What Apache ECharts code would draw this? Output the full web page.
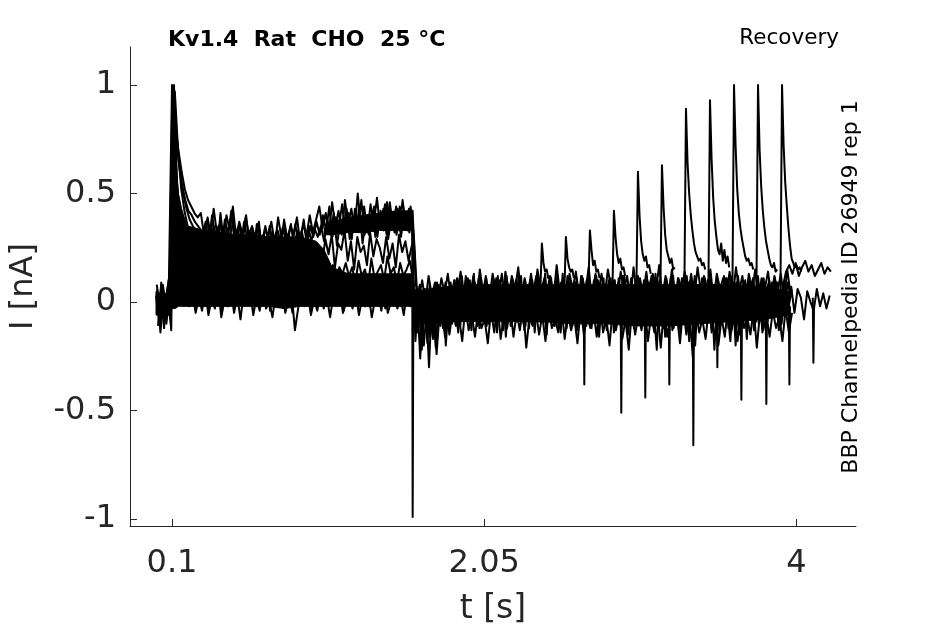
<!DOCTYPE html>
<html><head><meta charset="utf-8">
<script src="https://cdn.jsdelivr.net/npm/echarts@6/dist/echarts.min.js"></script>
<style>html,body{margin:0;padding:0;background:#fff}#c{width:945px;height:624px}</style>
</head><body><div id="c"></div>
<script>
// Sampling of the sweeps: one sample every 0.02 s starting at t = 0 s (+ a small per-sweep offset). Values in 0.01 nA.
const sampleStep = 0.02;
const recoveryStartIndex = 81; // t = 1.62 s, right after the 1.6 s prepulse end
const sweepOffsets = [0, 0.01, 0.005, 0.015, 0.0075, 0.0125, 0.0025, 0.0175];

// Prepulse part of each sweep (t = 0 .. 1.6 s)
const pre1 = [3,-9,6,-4,8,100,82,70,60,52,47,44,41,39,
 41,31,38,29,43,32,36,28,40,33,44,30,37,27,39,31,35,29,36,26,34,30,37,28,33,27,38,29,35,31,39,28,36,30,40,32,38,
 44,34,41,32,46,35,42,31,47,36,43,33,50,35,44,32,45,36,48,34,43,31,46,35,44,33,47,36,43,34];
const pre2 = [-6,5,-12,2,-3,98,75,60,50,43,38,35,33,31,
 29,37,27,40,30,35,26,38,31,42,28,34,25,37,29,33,24,36,28,31,25,35,27,32,24,34,29,31,26,36,27,33,25,35,28,34,30,
 35,28,38,31,41,26,37,32,43,29,39,33,44,27,38,31,42,30,40,34,45,29,39,32,43,30,41,33,44,31];
const pre3 = [8,-4,1,-10,5,96,62,42,32,26,22,20,21,18,
 22,15,20,13,19,24,14,18,12,21,16,19,11,20,15,18,13,
 17,12,19,14,10,18,13,16,9,17,14,11,18,12,15,
 13,18,10,16,12,19,9,15,11,17,10,16,13,18,12,
 16,9,19,12,15,8,20,11,14,17,10,21,13,16,9,18,12,15,19,11];
const pre4 = [-2,7,-8,4,-13,94,45,26,16,12,9,13,7,11,
 4,12,6,14,3,10,8,15,2,11,5,13,7,1,12,6,10,
 3,11,5,9,-1,8,12,4,10,2,13,6,9,3,11,
 5,10,2,12,7,0,9,4,11,6,1,10,8,3,12,
 4,9,1,11,6,2,10,5,8,0,12,3,7,9,2,11,5,8,1,6];
const pre5 = [6,-14,4,-7,2,92,30,10,3,6,-2,4,-5,2,
 -4,5,-6,2,-3,7,-7,1,-2,6,-5,3,-8,4,-1,5,-6,
 2,-4,6,-3,0,-7,4,-2,5,-5,1,4,-13,-3,6,
 -2,4,-6,1,-4,5,-3,2,-7,3,-1,6,-5,0,4,
 -3,5,-6,2,-2,4,-7,1,3,-4,6,-5,0,4,-3,2,-6,5,-1,3];
const pre6 = [-11,9,-5,7,-9,100,40,16,8,12,3,10,0,9,
 1,8,-3,10,2,6,-4,9,3,11,-2,7,0,12,-1,5,9,
 -2,7,1,10,-4,6,2,11,-1,8,3,-5,9,0,6,
 2,10,-3,7,1,9,-2,12,0,6,3,11,-4,8,2,
 9,-1,7,3,11,-2,6,0,10,4,-3,8,1,12,-1,7,2,9,-2,5];
const pre7 = [5,-10,8,-2,-6,99,78,64,54,47,42,40,37,35,
 33,26,39,30,35,24,41,28,34,30,38,25,36,31,40,27,33,29,37,23,35,28,32,26,39,30,34,27,36,25,33,29,38,26,35,30,37,
 31,40,33,44,30,39,35,45,32,41,29,43,34,47,31,40,36,44,30,42,33,46,35,41,31,44,34,39,32,42];
const pre8 = [-9,3,-4,10,-1,97,70,52,42,35,31,29,27,26,
 24,19,27,21,25,17,28,22,26,18,24,20,29,23,25,16,27,21,24,19,26,22,28,18,25,20,23,17,27,21,24,19,26,22,25,18,23,
 18,29,22,31,16,27,24,33,19,28,15,30,23,26,17,32,21,29,25,18,30,20,27,16,31,23,28,19,26,22];

// Recovery part of sweeps (t = 1.62 s onward), 0.01 nA
const rec1 = [-18,4,-22,6,-9,2,-14,7,-6,3,
 -8,9,-4,11,-11,5,-2,10,-7,8,-12,3,12,-5,7,-9,4,13,-3,6,
 -10,8,-1,12,-13,5,9,-6,11,-4,2,-15,10,-2,7,-8,13,-5,4,-11,
 9,-3,12,-7,6,-12,3,10,-9,8,-1,11,-14,5,-4,12,-8,7,-2,10,
 -6,4,-11,9,-3,13,-9,6,-16,8,1,-7,11,-5,3,-12,10,-2,7,-10,
 5,-4,12,-9,8,-13,3,11,-6,9,-20,4,-3,10,-8,6,-11,12,-5,7,
 -9,5,-2,9,-12,6,-4,3];
const rec2 = [5,-26,2,-12,8,-17,1,-8,6,-20,
 3,-10,8,-6,12,-3,6,-13,9,-1,11,-8,4,-5,10,-14,7,-2,12,-6,
 4,-9,11,-3,7,-12,10,-1,5,-8,13,-4,8,-11,2,9,-7,12,-3,6,
 -13,7,-2,10,-8,4,12,-5,9,-10,3,8,-6,11,-2,6,-15,9,-4,12,
 -1,8,-9,5,11,-7,3,-12,9,-3,12,-8,6,-1,10,-18,5,8,-6,11,
 -2,9,-14,4,10,-7,7,-3,12,-10,5,-1,9,-17,6,11,-4,8,-9,3,
 10,-6,7,-13,4,9,-3,6];
const rec3 = [-8,7,-15,3,-30,5,-10,8,-4,-16,
 6,-2,10,-12,4,-7,9,-4,13,-9,2,7,-11,5,-3,11,-6,8,-16,4,
 9,-5,12,-8,3,-2,10,-14,6,-6,11,-1,8,-9,12,-4,5,-12,9,-2,
 7,-10,11,-3,5,-7,13,-1,8,-11,6,-4,10,-8,3,12,-6,7,-12,9,
 4,-8,12,-2,7,-10,10,-5,2,8,-13,6,-3,11,-7,9,-1,12,-9,5,
 -6,10,-3,8,-12,6,-1,11,-8,4,9,-15,7,-5,12,-2,5,-10,10,-6,
 8,-1,11,-8,5,-3,9,2];
const rec4 = [2,-12,6,-19,4,-7,9,-11,1,-5,
 -12,7,-5,10,-2,12,-9,4,-6,11,-3,8,-10,6,-1,12,-7,3,9,-11,
 6,-3,11,-10,8,-6,4,12,-9,7,-2,10,-7,3,-12,9,-1,11,-6,8,
 -4,12,-9,6,-1,10,-7,3,11,-13,8,-2,6,-9,12,-5,4,-3,10,-8,
 7,-11,4,12,-6,9,-2,6,-9,11,-4,8,-14,5,12,-3,7,-10,3,9,
 -7,11,-2,6,-9,4,10,-12,7,-4,12,-1,8,-8,5,-13,9,-3,11,-6,
 6,-4,9,-2,7,14,17,13,18,12,16,19,14,17,12,15,18,13,16,14];
const rec5 = [-4,8,-9,2,-13,6,-21,4,-7,9,
 1,-9,5,-14,8,-4,11,-6,2,-11,9,-2,6,-8,10,-5,3,-13,7,-1,
 -7,10,-4,6,-11,8,1,-9,12,-5,4,-8,11,-3,7,-14,9,-2,5,-9,
 11,-2,4,-11,9,-6,8,-16,5,-3,10,-7,2,9,-12,7,-1,11,-10,4,
 -3,10,-7,6,-1,-22,8,-4,11,-6,5,-9,9,-2,6,-11,3,-20,8,-5,
 11,-4,7,-22,5,-8,12,-3,-18,9,-6,4,-11,8,-2,10,-9,5,-14,7,
 -3,9,-6,5,-10,4,-2,7,-5,6,2,-8,5,0,-4,6,-2,4,-3,3];
const rec6 = [-14,-4,-20,-2,-16,-6,-24,-3,-12,-5,
 -15,-4,-11,-7,-18,-2,-13,-6,-16,-3,-12,-8,-19,-4,-14,-1,-17,-6,-12,-3,
 -16,-5,-13,-2,-21,-7,-11,-4,-15,-6,-18,-3,-12,-8,-14,-2,-17,-5,-13,-7,
 -19,-3,-15,-6,-12,-4,-16,-1,-14,-7,-20,-3,-13,-5,-17,-8,-22,-4,-15,-6,
 -13,-2,-18,-6,-14,-4,-21,-3,-16,-7,-12,-5,-19,-2,-15,-6,-25,-4,-14,-8,
 -17,-3,-13,-5,-20,-7,-16,-2,-14,-6,-18,-4,-12,-7,-15,-3,-21,-5,-13,-6,
 -16,-4,-12,-7,-18,-3,-14,-5];
const rec7 = [8,2,10,0,12,3,9,1,11,4,
 13,2,10,5,14,1,9,3,12,0,15,4,11,2,13,5,10,1,14,3,
 12,6,16,2,11,4,13,1,15,5,10,3,12,2,17,4,11,0,13,6,
 14,2,11,5,16,1,12,4,13,3,15,6,10,2,14,5,12,1,16,4,
 11,3,14,0,13,5,17,2,12,4,15,1,11,6,14,3,13,2,16,5,
 12,4,15,1,13,6,11,3,14,2,16,5,12,0,13,4,15,2,11,6,
 14,3,12,5,13,1,15,4];

// Solid (overlapping-sweeps) core of the trace bundle (s, nA)
const lowCoreTimes  = [0,0.08,0.095,0.1,0.11,0.12,0.14,0.16,0.18,0.2,0.25,0.3,0.4,0.5,0.6,0.7,0.8,0.9,1.0,1.05,1.1,1.2,1.3,1.4,1.5,1.6];
const lowCoreBottom = [-0.06,-0.06,-0.05,-0.03,-0.03,-0.03,-0.02,-0.02,-0.02,-0.02,-0.02,-0.02,-0.02,-0.02,-0.02,-0.02,-0.03,-0.02,-0.02,-0.02,-0.02,-0.02,-0.02,-0.02,-0.02,-0.02];
const lowCoreTop    = [0.04,0.04,0.04,0.9,0.75,0.65,0.5,0.43,0.38,0.35,0.34,0.33,0.32,0.31,0.31,0.30,0.30,0.30,0.28,0.24,0.16,0.13,0.13,0.13,0.13,0.13];
const highCoreTimes  = [1.05,1.1,1.2,1.3,1.4,1.5,1.6];
const highCoreBottom = [0.31,0.31,0.32,0.32,0.33,0.33,0.33];
const highCoreTop    = [0.34,0.37,0.39,0.40,0.41,0.42,0.42];
const recCoreTimes  = [1.606,1.62,1.7,1.8,2.0,2.2,2.4,2.6,2.8,3.0,3.2,3.4,3.6,3.8,3.95];
const recCoreBottom = [-0.09,-0.10,-0.10,-0.09,-0.09,-0.09,-0.09,-0.10,-0.10,-0.11,-0.11,-0.10,-0.09,-0.08,-0.06];
const recCoreTop    = [0.05,0.05,0.06,0.07,0.08,0.08,0.08,0.08,0.08,0.08,0.08,0.08,0.08,0.07,0.05];

// Test pulses: peak times (s) and current samples every 0.01 s starting 0.01 s before the peak (0.01 nA)
const pulseStep = 0.01;
const pulseTimes = [2.41,2.56,2.71,2.86,3.01,3.16,3.31,3.46,3.61,3.76,3.91];
const pulseTraces = [
 [4,27,18,14,15,11,12],
 [3,30,20,16,14,15,11],
 [5,33,24,17,19,14,15,11],
 [2,42,30,22,18,20,15,16,12],
 [4,60,40,28,22,19,21,16,17,13],
 [3,63,44,31,24,21,18,20,15,16],
 [5,89,64,50,40,33,27,23,21,19,20,17,18,15],
 [4,93,66,48,37,30,24,22,27,19,24,18,21,16],
 [3,100,72,52,41,34,29,25,21,19,20,17,18,15],
 [5,100,70,53,42,34,28,24,20,17,16,18,14,15],
 [4,100,72,55,44,34,26,20,18,16,17,15,16,14]
];
// Negative transients (s, nA)
const tailTimes = [2.675,2.906,3.056,3.206,3.356,3.506,3.656,3.812,3.956,4.106];
const tailValues = [-0.38,-0.51,-0.44,-0.38,-0.66,-0.30,-0.45,-0.47,-0.38,-0.28];
// Prepulse end transient
const stepTrace = [[1.600,0.42],[1.603,-0.99],[1.607,-0.08]];

const xTicks = [0.1, 2.05, 4];
const yTicks = [-1, -0.5, 0, 0.5, 1];

function sweep(pre, rec, off) {
  const out = pre.map((v,i)=>[+(i*sampleStep+off).toFixed(4), v/100]);
  if (rec) rec.forEach((v,k)=>out.push([+((recoveryStartIndex+k)*sampleStep+off).toFixed(4), v/100]));
  return out;
}
const lineStyle = {color:'#000', width:2, join:'round'};
function lineSeries(data){
  return {type:'line', data, showSymbol:false, symbol:'none', silent:true, animation:false,
          lineStyle, clip:true, sampling:null, z:3};
}
// Filled band between two curves, drawn as one polygon through the axis scales
function bandSeries(times, bottom, top){
  return {type:'custom', silent:true, animation:false, clip:true, z:2,
    data:[[times[0], bottom[0]]],
    renderItem:(params, api)=>{
      const pts = [];
      for (let k=0;k<times.length;k++) pts.push(api.coord([times[k], bottom[k]]));
      for (let k=times.length-1;k>=0;k--) pts.push(api.coord([times[k], top[k]]));
      return {type:'polygon', shape:{points:pts}, style:{fill:'#000', stroke:'#000', lineWidth:1}};
    }};
}
const series = [
  bandSeries(lowCoreTimes, lowCoreBottom, lowCoreTop),
  bandSeries(highCoreTimes, highCoreBottom, highCoreTop),
  bandSeries(recCoreTimes, recCoreBottom, recCoreTop),
  lineSeries(sweep(pre1, rec1, sweepOffsets[0])), lineSeries(sweep(pre2, rec2, sweepOffsets[1])),
  lineSeries(sweep(pre3, rec3, sweepOffsets[2])), lineSeries(sweep(pre4, rec4, sweepOffsets[3])),
  lineSeries(sweep(pre5, rec5, sweepOffsets[4])), lineSeries(sweep(pre6, rec6, sweepOffsets[5])),
  lineSeries(sweep(pre7, rec7, sweepOffsets[6])), lineSeries(sweep(pre8, null, sweepOffsets[7])),
  lineSeries(stepTrace)
];
pulseTraces.forEach((tr,k)=>{
  series.push(lineSeries(tr.map((v,j)=>[pulseTimes[k]+(j-1)*pulseStep, v/100])));
});
tailTimes.forEach((t,k)=>{
  series.push(lineSeries([[t-0.004,0.02],[t,tailValues[k]],[t+0.004,-0.02]]));
});

const font = '"DejaVu Sans", sans-serif';
const axisColor = '#262626';
const chart = echarts.init(document.getElementById('c'), null, {renderer:'canvas'});
chart.setOption({
  animation:false,
  backgroundColor:'#fff',
  grid:{left:130, right:89, top:47, bottom:98, containLabel:false, outerBoundsMode:'none'},
  xAxis:{type:'value', min:-0.1625, max:4.372,
    name:'t [s]', nameLocation:'middle', nameGap:67,
    nameTextStyle:{fontSize:33, color:axisColor, fontFamily:font},
    axisLine:{show:true, onZero:false, lineStyle:{color:axisColor, width:1}},
    axisTick:{show:true, inside:true, length:7, customValues:xTicks, lineStyle:{color:axisColor}},
    axisLabel:{customValues:xTicks, fontSize:32, color:axisColor, fontFamily:font, margin:22},
    splitLine:{show:false}},
  yAxis:{type:'value', min:-1.032, max:1.175,
    name:'I [nA]', nameLocation:'middle', nameGap:90,
    nameTextStyle:{fontSize:32, color:axisColor, fontFamily:font},
    axisLine:{show:true, onZero:false, lineStyle:{color:axisColor, width:1}},
    axisTick:{show:true, inside:true, length:7, customValues:yTicks, lineStyle:{color:axisColor}},
    axisLabel:{customValues:yTicks, fontSize:32, color:axisColor, fontFamily:font, margin:14, padding:[7,0,0,0]},
    splitLine:{show:false}},
  graphic:[
    {type:'text', x:168, y:40, style:{text:'Kv1.4  Rat  CHO  25 °C', font:'bold 22px '+font, fill:'#000', align:'left', verticalAlign:'middle'}},
    {type:'text', x:839, y:38, style:{text:'Recovery', font:'21.5px '+font, fill:'#000', align:'right', verticalAlign:'middle'}},
    {type:'text', x:851, y:287, rotation:Math.PI/2, style:{text:'BBP Channelpedia ID 26949 rep 1', font:'22px '+font, fill:'#000', align:'center', verticalAlign:'middle'}}
  ],
  series
});
</script></body></html>
